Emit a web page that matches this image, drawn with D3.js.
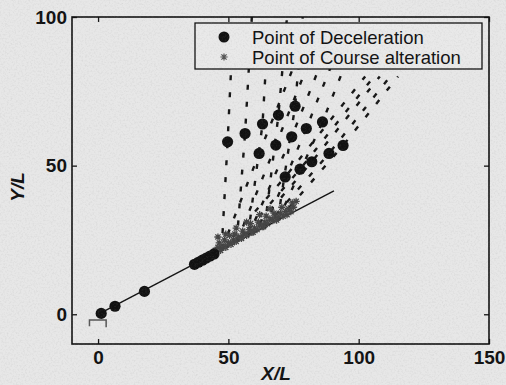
<!DOCTYPE html>
<html>
<head>
<meta charset="utf-8">
<script src="https://cdn.jsdelivr.net/npm/d3@7"></script>
<style>
html,body{margin:0;padding:0;background:#e6e6e6;}
svg{display:block;}
text{font-family:"Liberation Sans",Arial,sans-serif;}
</style>
</head>
<body>
<svg id="chart" width="506" height="385"></svg>
<script>
// ---------- data ----------
const xTicks = [0, 50, 100, 150];
const yTicks = [0, 50, 100];
const xLabel = "X/L";
const yLabel = "Y/L";
const legendLabels = ["Point of Deceleration", "Point of Course alteration"];

// original straight course
const courseX = [0, 90.5];
const courseY = [0, 41.5];

// small outline at the origin
const shipX = [-3.3, -3.3, 3.1, 3.1];
const shipY = [-4.0, -1.9, -1.9, -4.4];

// deceleration points on the straight course (no course change)
const decelCourseX = [1.2, 6.5, 17.8, 37, 38.5, 40, 41.5, 43, 44.5];
const decelCourseY = [0.3, 2.7, 7.7, 16.8, 17.5, 18.2, 18.9, 19.6, 20.3];

// 15 manoeuvre trajectories: alteration point -> deceleration point -> last visible point
const altX = [47.4, 53.2, 57.5, 63.9, 68.9, 47.4, 53.2, 57.5, 63.9, 68.9, 47.4, 53.2, 57.5, 63.9, 68.9];
const altY = [21.6, 24.2, 26.2, 29.0, 31.4, 21.6, 24.2, 26.2, 29.0, 31.4, 21.6, 24.2, 26.2, 29.0, 31.4];
const decX = [49.7, 56.4, 63.1, 69.2, 75.6, 61.8, 68.2, 74.3, 79.9, 86.1, 71.8, 77.5, 82.0, 88.6, 94.0];
const decY = [58.0, 60.8, 64.0, 67.0, 70.0, 54.1, 56.9, 59.7, 62.5, 64.7, 46.2, 48.8, 51.3, 54.1, 56.8];
const endX = [52.0, 59.0, 65.5, 72.5, 78.5, 75.8, 81.0, 85.8, 90.1, 95.3, 102.5, 105.9, 108.1, 112.1, 115.1];
const endY = [100, 100, 100, 100, 100, 85, 85, 85, 85, 85, 80, 80, 80, 80, 80];

// points of course alteration (cloud of asterisks)
const starX = [44,45,46,46.5,47,48,48.5,49,50,50.5,51,52,52.5,53,54,55,55.5,56,57,58,58.5,59,60,61,61.5,62,63,64,64.5,65,66,67,67.5,68,69,70,70.5,71,72,73,74,74.5,75,76,66,62,57,53,49,46,42,40.5,39,47.5,51.5,55,59.5,63.5,68.5,72.5];
const starY = [20.5,21.5,22.5,24,21.5,23,25,22.5,24,26.5,23.5,25,27,24.5,26,25.5,28,27,26.5,28.5,30.5,27.5,29,28.5,31,30,29.5,31,33,30.5,32,31.5,34,33,32.5,34,36,33,34.5,35.5,34.5,37.5,36,38,35.5,33.5,31,29,27,26,19.5,18.8,18,22.3,24.1,25.7,27.6,29.5,31.7,33.5];

// ---------- drawing ----------
const W = 506, H = 385;
const pLeft = 72, pRight = 489, pTop = 17, pBottom = 344;
const svg = d3.select("#chart");

const defs = svg.append("defs");
defs.append("clipPath").attr("id", "plotclip")
  .append("rect").attr("x", pLeft).attr("y", pTop).attr("width", pRight - pLeft).attr("height", pBottom - pTop);
const noise = defs.append("filter").attr("id", "noise").attr("x", 0).attr("y", 0).attr("width", "100%").attr("height", "100%");
noise.append("feTurbulence").attr("type", "fractalNoise").attr("baseFrequency", 0.55).attr("numOctaves", 3).attr("seed", 7);
noise.append("feColorMatrix").attr("type", "matrix")
  .attr("values", "0 0 0 0 0.3  0 0 0 0 0.3  0 0 0 0 0.3  1.8 0 0 0 -0.8");

svg.append("rect").attr("width", W).attr("height", H).attr("fill", "#e7e7e7");

const x = d3.scaleLinear().domain([-10, 150]).range([pLeft, pRight]);
const y = d3.scaleLinear().domain([-10, 100]).range([pBottom, pTop]);

const plot = svg.append("g").attr("clip-path", "url(#plotclip)");

const line = d3.line().x(d => x(d[0])).y(d => y(d[1]));

// trajectories (dashed)
const traj = altX.map((_, i) => [[altX[i], altY[i]], [decX[i], decY[i]], [endX[i], endY[i]]]);
plot.selectAll(".traj").data(traj).join("path").attr("class", "traj")
  .attr("d", line).attr("fill", "none").attr("stroke", "#151515")
  .attr("stroke-width", 2.4).attr("stroke-dasharray", "5,12");

// course line
plot.append("path").datum(d3.zip(courseX, courseY)).attr("d", line)
  .attr("fill", "none").attr("stroke", "#111").attr("stroke-width", 1.4);

// origin outline
plot.append("path").datum(d3.zip(shipX, shipY)).attr("d", line)
  .attr("fill", "none").attr("stroke", "#555").attr("stroke-width", 1.5);

// asterisk marker
function asterisk(r) {
  const a = r * 0.72;
  return `M${-r},0H${r}M0,${-r}V${r}M${-a},${-a}L${a},${a}M${-a},${a}L${a},${-a}`;
}
plot.selectAll(".star").data(d3.zip(starX, starY)).join("path").attr("class", "star")
  .attr("transform", d => `translate(${x(d[0])},${y(d[1])})`)
  .attr("d", asterisk(3.6)).attr("fill", "none").attr("stroke", "#444").attr("stroke-width", 1.3);

// deceleration points
const dots = d3.zip(decelCourseX, decelCourseY).concat(d3.zip(decX, decY));
plot.selectAll(".dot").data(dots).join("circle").attr("class", "dot")
  .attr("cx", d => x(d[0])).attr("cy", d => y(d[1])).attr("r", 5.6).attr("fill", "#111");

// axes
const fs = 19;
const gx = svg.append("g").attr("transform", `translate(0,${pBottom})`)
  .call(d3.axisBottom(x).tickValues(xTicks).tickSize(-5).tickPadding(7));
const gy = svg.append("g").attr("transform", `translate(${pLeft},0)`)
  .call(d3.axisLeft(y).tickValues(yTicks).tickSize(-5).tickPadding(5));
const gt = svg.append("g").attr("transform", `translate(0,${pTop})`)
  .call(d3.axisTop(x).tickValues(xTicks).tickSize(-5).tickFormat(""));
const gr = svg.append("g").attr("transform", `translate(${pRight},0)`)
  .call(d3.axisRight(y).tickValues(yTicks).tickSize(-5).tickFormat(""));
[gx, gy, gt, gr].forEach(g => {
  g.select(".domain").remove();
  g.selectAll(".tick line").attr("stroke", "#111").attr("stroke-width", 1.3);
  g.selectAll(".tick text").attr("fill", "#111").attr("font-size", fs).attr("font-weight", "bold")
    .attr("font-family", "Liberation Sans, Arial, sans-serif");
});
svg.append("rect").attr("x", pLeft).attr("y", pTop).attr("width", pRight - pLeft).attr("height", pBottom - pTop)
  .attr("fill", "none").attr("stroke", "#111").attr("stroke-width", 1.6);

// axis labels
svg.append("text").attr("x", 276).attr("y", 380).attr("text-anchor", "middle")
  .attr("font-size", fs).attr("font-weight", "bold").attr("font-style", "italic").attr("fill", "#111").text(xLabel);
svg.append("text").attr("transform", "translate(24,187) rotate(-90)").attr("text-anchor", "middle")
  .attr("font-size", fs).attr("font-weight", "bold").attr("font-style", "italic").attr("fill", "#111").text(yLabel);

// legend
const lg = svg.append("g");
lg.append("rect").attr("x", 195).attr("y", 23).attr("width", 287).attr("height", 46)
  .attr("fill", "#e9e9e9").attr("stroke", "#111").attr("stroke-width", 1.3);
lg.append("circle").attr("cx", 224).attr("cy", 37).attr("r", 5.5).attr("fill", "#111");
lg.append("path").attr("transform", "translate(224,57)").attr("d", asterisk(3.6))
  .attr("fill", "none").attr("stroke", "#555").attr("stroke-width", 1.2);
lg.selectAll(".lt").data(legendLabels).join("text").attr("class", "lt")
  .attr("x", 252).attr("y", (d, i) => 44 + i * 20).attr("font-size", 18.5).attr("fill", "#111").text(d => d);

// scan-like speckle overlay
svg.append("rect").attr("width", W).attr("height", H).attr("filter", "url(#noise)")
  .attr("opacity", 0.18).attr("pointer-events", "none");
</script>
</body>
</html>
